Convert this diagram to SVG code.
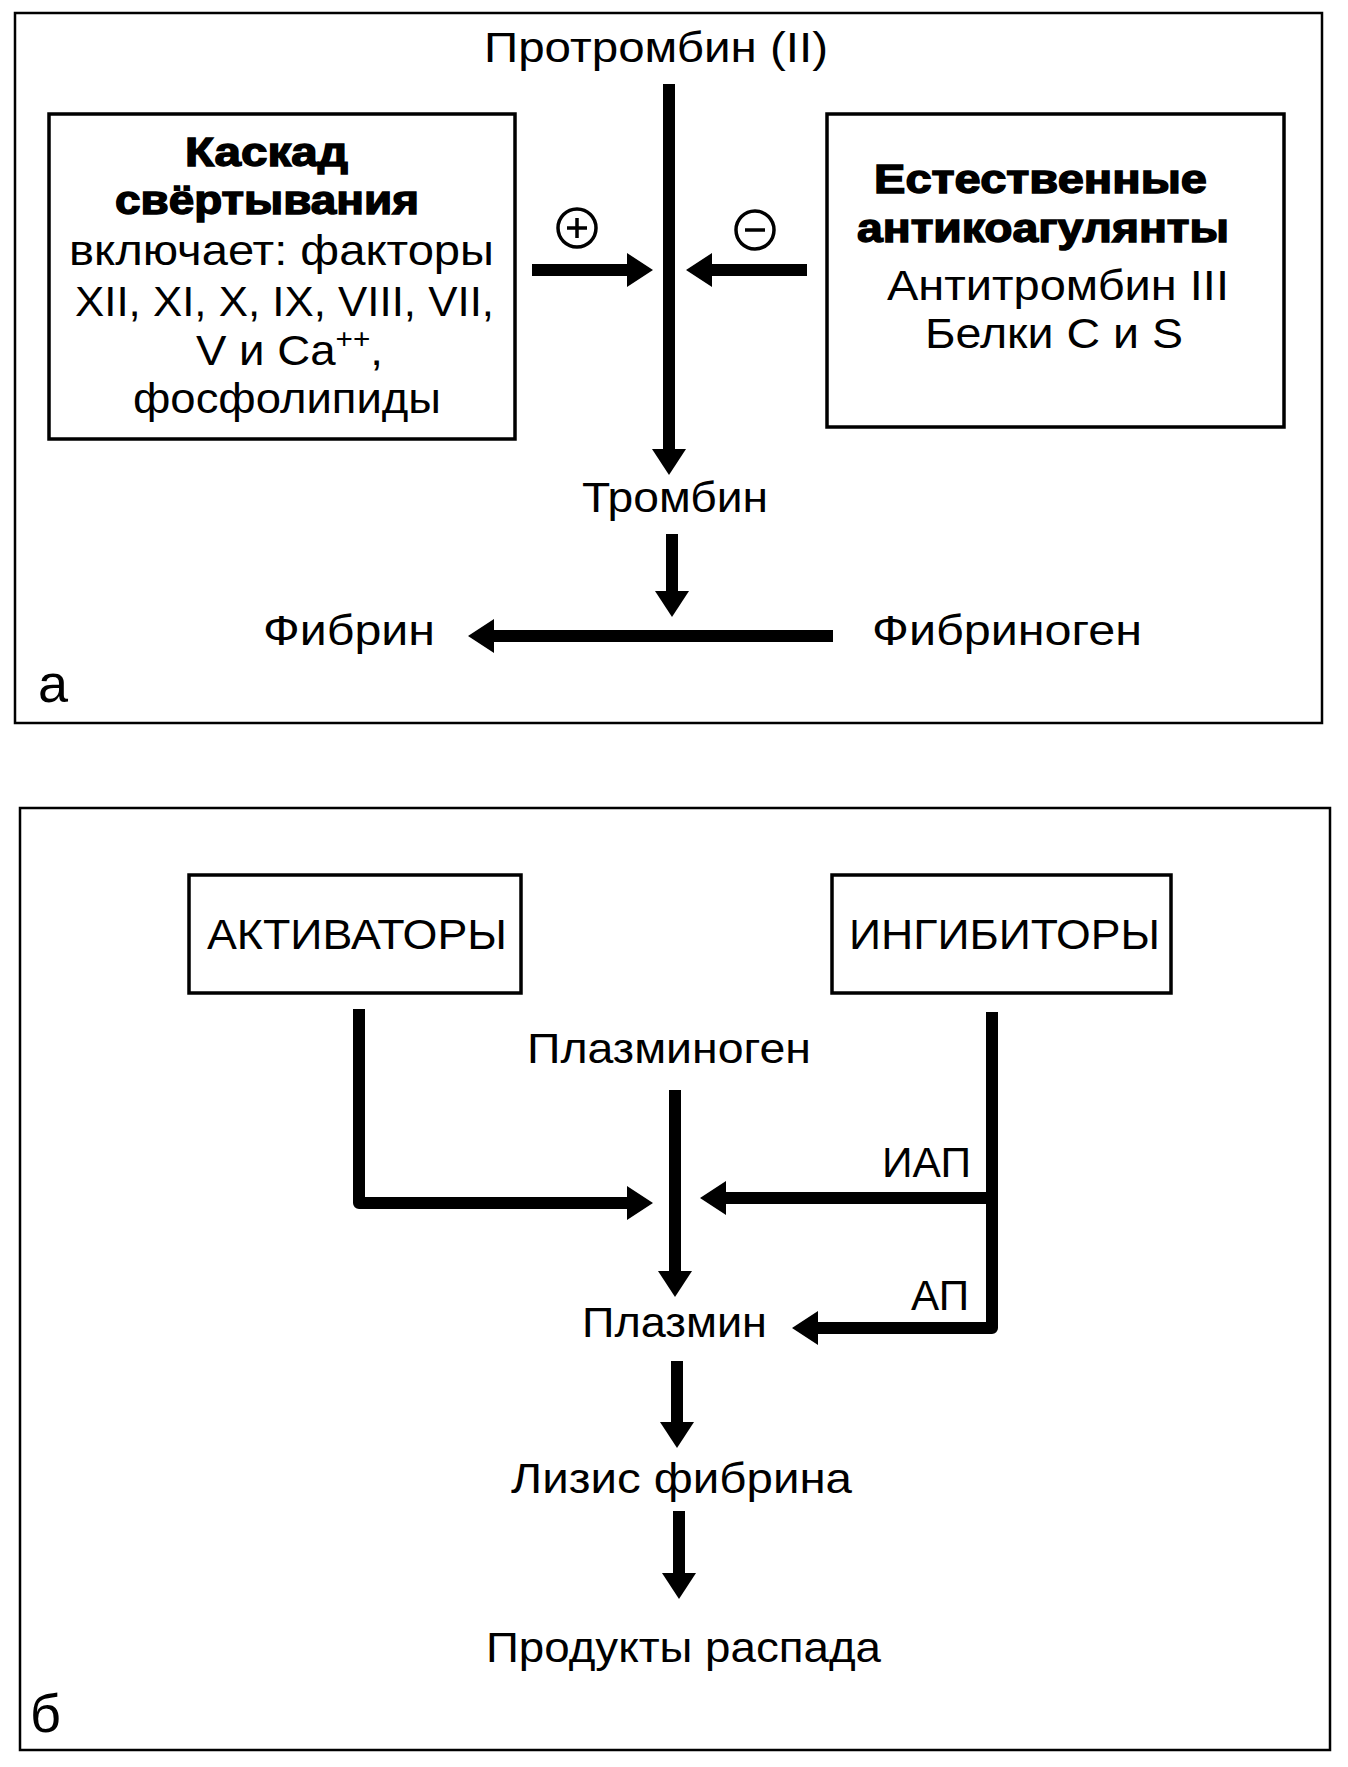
<svg xmlns="http://www.w3.org/2000/svg" width="1348" height="1767" viewBox="0 0 1348 1767">
<style>
.panel{fill:none;stroke:#000;stroke-width:2.5}
.box{fill:#fff;stroke:#000;stroke-width:3.5}
.t{font-family:"Liberation Sans",Arial,sans-serif;font-size:43px;fill:#000}
.b{font-family:"Liberation Sans",Arial,sans-serif;font-size:40px;font-weight:bold;fill:#000;stroke:#000;stroke-width:1.4}
.big{font-family:"Liberation Sans",Arial,sans-serif;font-size:54px;fill:#000}
.c{fill:none;stroke:#000;stroke-width:12;stroke-linejoin:round}
.sign{fill:none;stroke:#000;stroke-width:3.5}
</style>
<defs>
<marker id="ah" viewBox="0 0 26 34" refX="2" refY="17" markerWidth="26" markerHeight="34" markerUnits="userSpaceOnUse" orient="auto">
<path d="M0,0 L26,17 L0,34 z" fill="#000"/>
</marker>
</defs>
<rect fill="#fff" x="0" y="0" width="1348" height="1767"/>

<g id="panel-a">
<rect class="panel" x="15" y="13" width="1307" height="710"/>
<text class="big" x="38" y="702">а</text>
</g>
<g id="panel-b">
<rect class="panel" x="20" y="808" width="1310" height="942"/>
<text class="big" x="30" y="1732">б</text>
</g>

<g id="prothrombin"><text class="t" x="484" y="62" textLength="344" lengthAdjust="spacingAndGlyphs">Протромбин (II)</text></g>

<g id="cascade">
<rect class="box" x="49" y="114" width="466" height="325"/>
<text class="b" x="185" y="166" textLength="163" lengthAdjust="spacingAndGlyphs">Каскад</text>
<text class="b" x="115" y="214" textLength="304" lengthAdjust="spacingAndGlyphs">свёртывания</text>
<text class="t" x="69" y="265" textLength="425" lengthAdjust="spacingAndGlyphs">включает: факторы</text>
<text class="t" x="75" y="316" textLength="419" lengthAdjust="spacingAndGlyphs">XII, XI, X, IX, VIII, VII,</text>
<text class="t" x="196" y="365" textLength="187" lengthAdjust="spacingAndGlyphs">V и Ca<tspan font-size="28" dy="-17">++</tspan><tspan dy="17">,</tspan></text>
<text class="t" x="133" y="413" textLength="308" lengthAdjust="spacingAndGlyphs">фосфолипиды</text>
</g>

<g id="anticoagulants">
<rect class="box" x="827" y="114" width="457" height="313"/>
<text class="b" x="874" y="193" textLength="333" lengthAdjust="spacingAndGlyphs">Естественные</text>
<text class="b" x="857" y="242" textLength="372" lengthAdjust="spacingAndGlyphs">антикоагулянты</text>
<text class="t" x="887" y="300" textLength="342" lengthAdjust="spacingAndGlyphs">Антитромбин III</text>
<text class="t" x="925" y="348" textLength="258" lengthAdjust="spacingAndGlyphs">Белки C и S</text>
</g>

<g id="plus"><circle class="sign" cx="577" cy="228" r="19"/><path class="sign" d="M577,218 V238 M567,228 H587" stroke-width="4.5"/></g>
<g id="minus"><circle class="sign" cx="755" cy="230" r="19"/><path class="sign" d="M745,230 H765" stroke-width="4.5"/></g>

<g id="thrombin"><text class="t" x="582" y="512" textLength="186" lengthAdjust="spacingAndGlyphs">Тромбин</text></g>
<g id="fibrin"><text class="t" x="263" y="645" textLength="172" lengthAdjust="spacingAndGlyphs">Фибрин</text></g>
<g id="fibrinogen"><text class="t" x="872" y="645" textLength="270" lengthAdjust="spacingAndGlyphs">Фибриноген</text></g>

<g id="activators">
<rect class="box" x="189" y="875" width="332" height="118"/>
<text class="t" x="207" y="949" textLength="300" lengthAdjust="spacingAndGlyphs">АКТИВАТОРЫ</text>
</g>
<g id="inhibitors">
<rect class="box" x="832" y="875" width="339" height="118"/>
<text class="t" x="849" y="949" textLength="311" lengthAdjust="spacingAndGlyphs">ИНГИБИТОРЫ</text>
</g>
<g id="plasminogen"><text class="t" x="527" y="1063" textLength="284" lengthAdjust="spacingAndGlyphs">Плазминоген</text></g>
<g id="plasmin"><text class="t" x="582" y="1337" textLength="185" lengthAdjust="spacingAndGlyphs">Плазмин</text></g>
<g id="lysis"><text class="t" x="511" y="1493" textLength="341" lengthAdjust="spacingAndGlyphs">Лизис фибрина</text></g>
<g id="products"><text class="t" x="486" y="1662" textLength="395" lengthAdjust="spacingAndGlyphs">Продукты распада</text></g>

<g id="connectors">
<line class="c" x1="669" y1="84" x2="669" y2="451" marker-end="url(#ah)"/>
<line class="c" x1="532" y1="270" x2="629" y2="270" marker-end="url(#ah)"/>
<line class="c" x1="807" y1="270" x2="710" y2="270" marker-end="url(#ah)"/>
<line class="c" x1="672" y1="534" x2="672" y2="593" marker-end="url(#ah)"/>
<line class="c" x1="833" y1="636" x2="492" y2="636" marker-end="url(#ah)"/>
<path class="c" d="M359,1009 V1203 H629" marker-end="url(#ah)"/>
<line class="c" x1="675" y1="1090" x2="675" y2="1273" marker-end="url(#ah)"/>
<path class="c" d="M992,1012 V1328 H816" marker-end="url(#ah)"/>
<line class="c" x1="992" y1="1198" x2="724" y2="1198" marker-end="url(#ah)"/>
<line class="c" x1="677" y1="1361" x2="677" y2="1424" marker-end="url(#ah)"/>
<line class="c" x1="679" y1="1511" x2="679" y2="1575" marker-end="url(#ah)"/>
<text class="t" x="882" y="1177" textLength="89" lengthAdjust="spacingAndGlyphs">ИАП</text>
<text class="t" x="911" y="1310" textLength="58" lengthAdjust="spacingAndGlyphs">АП</text>
</g>
</svg>
